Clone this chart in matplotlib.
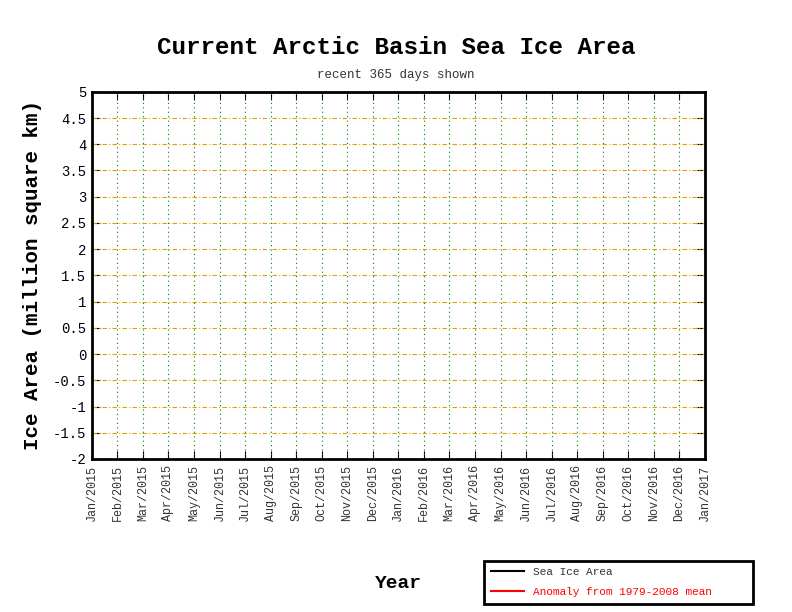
import matplotlib
matplotlib.use("Agg")
import matplotlib.pyplot as plt
from matplotlib.lines import Line2D

months = ["Jan","Feb","Mar","Apr","May","Jun","Jul","Aug","Sep","Oct","Nov","Dec"]
tick_labels = [f"{m}/{y}" for y in (2015, 2016) for m in months] + ["Jan/2017"]
y_ticks = [-2,-1.5,-1,-0.5,0,0.5,1,1.5,2,2.5,3,3.5,4,4.5,5]
y_labels = ["-2","-1.5","-1","-0.5","0","0.5","1","1.5","2","2.5","3","3.5","4","4.5","5"]
ice_x, ice_y = [], []
anom_x, anom_y = [], []

mono = "Liberation Mono"
fig = plt.figure(figsize=(7.92, 6.12), dpi=100)
ax = fig.add_axes([0.116, 0.25, 0.774, 0.600])
ax.plot(ice_x, ice_y, color="black")
ax.plot(anom_x, anom_y, color="red")
ax.set_xlim(0, len(tick_labels)-1)
ax.set_ylim(-2, 5)
xs = list(range(len(tick_labels)))
ax.set_xticks(xs)
ax.set_xticklabels(tick_labels, rotation=90, family=mono, fontsize=8.5, color="#333333")
ax.set_yticks(y_ticks)
ax.set_yticklabels(y_labels, family=mono, fontsize=10)
for x in xs[1:-1]:
    ax.axvline(x, color="green", linestyle=(0, (1, 3)), linewidth=0.8)
for y in y_ticks[1:-1]:
    ax.axhline(y, color="#e0a000", linestyle=(0, (4, 2, 1, 2)), linewidth=0.8)
ax.tick_params(direction="in", length=6, top=True, right=True, pad=4)
for s in ax.spines.values():
    s.set_linewidth(2)
fig.text(0.5, 0.912, "Current Arctic Basin Sea Ice Area", ha="center", family=mono,
         fontsize=17.5, fontweight="bold")
fig.text(0.5, 0.873, "recent 365 days shown", ha="center", family=mono, fontsize=9, color="#333333")
ax.set_ylabel("Ice Area (million square km)", family=mono, fontsize=15, fontweight="bold", labelpad=8)
fig.text(0.503, 0.04, "Year", ha="center", family=mono, fontsize=14, fontweight="bold")
handles = [Line2D([], [], color="black"), Line2D([], [], color="red", linewidth=1.5)]
leg = fig.legend(handles, ["Sea Ice Area", "Anomaly from 1979-2008 mean"],
                 loc="lower left", bbox_to_anchor=(0.611, 0.013, 0.34, 0.078), mode="expand",
                 prop={"family": mono, "size": 8}, fancybox=False, edgecolor="black",
                 framealpha=1, borderaxespad=0, handlelength=3, labelspacing=0.9, borderpad=0.6)
leg.get_frame().set_linewidth(2)
leg.get_texts()[1].set_color("red")
leg.get_texts()[0].set_color("#333333")
fig.savefig("out.png", dpi=100)
